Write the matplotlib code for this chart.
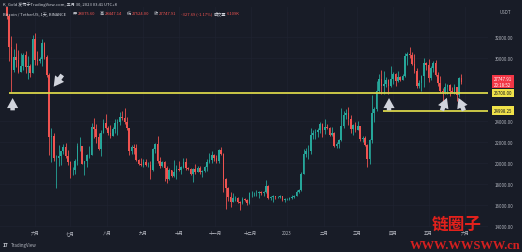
import numpy as np
import matplotlib
matplotlib.use("Agg")
import matplotlib.pyplot as plt

plt.rcParams['font.family'] = ['Noto Sans CJK SC', 'DejaVu Sans']

# BTC/USDT, 2-day candles starting 2022-05-05 (day index counted from 2022-05-01)
first_day = 4
open0 = 39700
highs = [39800, 36100, 34200, 32100, 30900, 31400, 30800, 30500, 30500, 30700,
         30200, 29400, 32200, 32400, 30700, 30100, 31800, 31500, 30300, 28600,
         23300, 22900, 20800, 21700, 21000, 21800, 21900, 21200, 20200, 19600,
         20400, 21900, 22500, 21600, 20000, 20900, 21600, 23800, 24300, 23700,
         22900, 23100, 24200, 24700, 23500, 23600, 23400, 24200, 24200, 24900,
         25000, 25200, 24400, 23300, 21700, 21800, 21800, 20400, 20500, 20400,
         20400, 20100, 20200, 21400, 21900, 22600, 20600, 20200, 20200, 19700,
         19500, 19300, 20300, 19800, 20200, 19700, 20500, 20500, 19600, 19500,
         19500, 19900, 19700, 19700, 19300, 19700, 20400, 21000, 21100, 20900,
         20800, 21300, 21500, 21000, 18600, 17700, 17200, 17100, 16900, 16800,
         16400, 16800, 16700, 16600, 17200, 17300, 17200, 17400, 17300, 17300,
         17300, 18400, 17900, 16900, 17000, 16900, 16900, 17000, 16900, 16700,
         16700, 16800, 17000, 17000, 17400, 17500, 19100, 21300, 21400, 21700,
         23300, 23100, 23200, 23300, 23900, 23800, 24200, 23700, 23400, 23400,
         23000, 22000, 22300, 25200, 25000, 25100, 25300, 24600, 23700, 23900,
         24000, 23500, 22600, 22600, 21800, 22300, 26500, 25300, 27800, 28500,
         28900, 28800, 28200, 28000, 29200, 28700, 28600, 28800, 28300, 28500,
         30500, 30600, 31000, 30600, 30400, 29000, 27900, 28400, 30000, 29600,
         29900, 29200, 29700, 29800, 28700, 28300, 27100, 27600, 27500, 27500,
         27200, 27500, 27200, 28200, 28447.14]
lows = [35300, 33700, 29700, 26700, 28700, 29100, 28600, 28700, 28900, 28600,
        28000, 28200, 28600, 29300, 29300, 29500, 29200, 29900, 28200, 20800,
        20100, 20200, 17600, 19700, 19800, 20900, 20500, 19800, 18600, 18900,
        19000, 19800, 21100, 19900, 18900, 19600, 20500, 20800, 22400, 21900,
        21200, 20700, 22900, 23200, 22700, 22400, 22600, 22900, 22700, 23600,
        24100, 23700, 23100, 20800, 20900, 20900, 20200, 19800, 19700, 19600,
        19700, 19600, 18500, 19200, 21000, 20000, 19500, 19600, 18300, 18100,
        18400, 18700, 18700, 18500, 19200, 19000, 19500, 19300, 19300, 18900,
        18200, 19000, 19100, 19000, 18700, 19100, 19200, 20000, 20000, 20200,
        20000, 20000, 20800, 17200, 15600, 16400, 15800, 16300, 16400, 16200,
        15500, 16100, 16400, 16000, 16100, 16800, 16900, 16900, 16700, 17000,
        16900, 17100, 16600, 16500, 16300, 16600, 16700, 16700, 16400, 16300,
        16500, 16500, 16600, 16700, 16900, 17100, 17300, 19000, 20600, 20400,
        20900, 22300, 22300, 22500, 22900, 22500, 22800, 23200, 22600, 22600,
        21500, 21400, 21400, 22100, 23300, 24200, 23600, 22900, 22700, 23000,
        23100, 22100, 22000, 21600, 19600, 19900, 21900, 23900, 25000, 26700,
        26600, 26600, 27200, 26600, 27200, 27500, 27300, 27700, 27800, 27900,
        28200, 29300, 30000, 29300, 28600, 27100, 27100, 26900, 27200, 28900,
        27700, 27900, 28700, 28300, 27300, 26700, 25800, 26600, 26600, 26400,
        26700, 26600, 25900, 26300, 27524.00]
closes = [36000, 34000, 31000, 28900, 30100, 29800, 28700, 29200, 30300, 29100,
          29200, 28600, 31800, 29800, 29700, 29900, 31400, 30100, 28400, 22500,
          22600, 20500, 20500, 20700, 21100, 21500, 20700, 20100, 19300, 19300,
          20200, 21600, 21600, 19900, 20200, 20800, 20800, 23400, 23200, 22500,
          21300, 22900, 23800, 23300, 22900, 22600, 23200, 23800, 23900, 24400,
          24300, 23900, 23300, 21100, 21500, 21400, 20300, 19900, 19800, 20100,
          19800, 19800, 19300, 21300, 21800, 20200, 19700, 20100, 19500, 18500,
          19300, 18800, 19100, 19400, 19300, 19600, 20100, 19500, 19400, 19000,
          19400, 19100, 19500, 19100, 19200, 19600, 20100, 20300, 20800, 20500,
          20200, 21200, 20900, 18500, 17600, 16800, 16300, 16700, 16700, 16300,
          16200, 16600, 16500, 16200, 17100, 17100, 17100, 17100, 17200, 17100,
          17200, 17800, 16700, 16800, 16900, 16800, 16800, 16900, 16500, 16600,
          16600, 16700, 16800, 16900, 17200, 17400, 19000, 20900, 21100, 21100,
          22700, 22900, 23000, 23100, 23700, 23100, 23400, 23300, 22700, 22900,
          21600, 21800, 22200, 23500, 24600, 24800, 24200, 23200, 23600, 23100,
          23500, 22300, 22400, 21700, 20400, 22200, 24800, 25100, 26900, 28000,
          27300, 27500, 27900, 27300, 28000, 28500, 27800, 28200, 27900, 28300,
          30200, 30400, 30300, 29400, 28800, 27300, 27600, 28300, 29500, 29300,
          28100, 29000, 29500, 28400, 27600, 26900, 26800, 27200, 27400, 26900,
          26800, 27200, 26500, 28075.60, 27747.91]

month_days = [31, 61, 92, 123, 153, 184, 214, 245, 276, 304, 335, 365, 396]
month_labels = ["六月", "七月", "八月", "九月", "十月", "十一月", "十二月",
                "2023", "二月", "三月", "四月", "五月", "六月"]
price_ticks = [14000, 16000, 18000, 20000, 22000, 24000, 30000, 32000]
level_hi = 26700.00
level_lo = 24998.25

bg = "#181c27"
up_col = "#26a69a"
down_col = "#ef5350"
yellow = "#d8d44a"
txt = "#b2b5be"

W, H = 522, 253
fig = plt.figure(figsize=(W / 100, H / 100), dpi=100, facecolor=bg)
ax = fig.add_axes([0, (H - 228) / H, 488 / W, 220 / H], facecolor=bg)
ax.set_xlim(1.3, 415.5)
ax.set_ylim(13905, 34857)

# candles
n = len(closes)
x = first_day + 2 * np.arange(n) + 1
opens = np.array([open0] + closes[:-1])
closes_a = np.array(closes)
colors = np.where(closes_a >= opens, up_col, down_col)
ax.vlines(x, lows, highs, colors=colors, lw=0.6, zorder=3)
ax.bar(x, closes_a - opens, bottom=opens, width=1.4, color=colors, lw=0, zorder=3)

# levels
ax.hlines(level_hi, 9, 415.5, color=yellow, lw=1.3, zorder=4)
ax.hlines(level_lo, 326, 415.5, color=yellow, lw=1.3, zorder=4)

# arrows
arrow_kw = dict(arrowstyle="simple,head_length=0.9,head_width=1.0,tail_width=0.4",
                fc="#d1d4dc", ec="none", mutation_scale=8)
arrows = [((12, 26450), (12, 24750)),
          ((45.5, 27050), (55.5, 28600)),
          ((331.5, 26450), (331.5, 24750)),
          ((381.5, 26450), (375.5, 24750)),
          ((389.5, 26450), (396, 24750))]
for head, tail in arrows:
    ax.annotate("", xy=head, xytext=tail, arrowprops=arrow_kw, zorder=5)

# axes / grid
for s in ax.spines.values():
    s.set_visible(False)
ax.set_xticks(month_days)
ax.set_xticklabels(month_labels)
ax.yaxis.tick_right()
ax.set_yticks(price_ticks)
ax.set_yticklabels([f"{p:.2f}" for p in price_ticks])
ax.tick_params(axis="both", length=0, labelsize=3.2, colors=txt)
ax.tick_params(axis="x", pad=2)
ax.tick_params(axis="y", pad=5)
ax.grid(True, color="#1f2331", lw=0.5, zorder=0)

# price labels on the axis
ytr = ax.get_yaxis_transform()
ax.text(1.012, closes[-1], f"{closes[-1]:.2f}\n20:18:52", transform=ytr, fontsize=3.2,
        color="white", va="center", ha="left", linespacing=1.1,
        bbox=dict(boxstyle="square,pad=0.35", fc="#f23645", ec="none"), zorder=6, clip_on=False)
for lv in (level_hi, level_lo):
    ax.text(1.012, lv, f"{lv:.2f}", transform=ytr, fontsize=3.2, color="#131722",
            va="center", ha="left",
            bbox=dict(boxstyle="square,pad=0.35", fc="#f0e24a", ec="none"), zorder=6, clip_on=False)
fig.text(505 / W, 1 - 13 / H, "USDT", fontsize=3.2, color=txt, ha="center", va="center")

# legend header
o, h, l, c = closes[-2], highs[-1], lows[-1], closes[-1]
fs = 3.0
fig.text(3 / W, 1 - 5 / H, "K_Gold 发布于TradingView.com, 五月 30, 2023 03:41 UTC+8",
         fontsize=fs, color="#d1d4dc", va="center")
y2 = 1 - 14 / H
fig.text(3 / W, y2, "Bitcoin / TetherUS, 1天, BINANCE", fontsize=fs, color="#d1d4dc", va="center")
parts = [(73, "开", f"{o:.2f}"), (100, "高", f"{h:.2f}"), (127, "低", f"{l:.2f}"), (154, "收", f"{c:.2f}")]
for px, k, v in parts:
    fig.text(px / W, y2, k, fontsize=fs, color="#d1d4dc", va="center")
    fig.text((px + 4.5) / W, y2, v, fontsize=fs, color=down_col, va="center")
fig.text(181 / W, y2, f"{c - o:.2f} ({(c - o) / o * 100:.2f}%)", fontsize=fs, color=down_col, va="center")
fig.text(214 / W, y2, "成交量", fontsize=fs, color="#d1d4dc", va="center")
fig.text(227 / W, y2, "6.109K", fontsize=fs, color=down_col, va="center")

# footer
fig.text(3 / W, 1 - 246 / H, "17", fontsize=3.5, color="#d1d4dc", weight="bold", va="center")
fig.text(11 / W, 1 - 246 / H, "TradingView", fontsize=3.2, color=txt, va="center")

# watermark
fig.text(457 / W, 1 - 225 / H, "链圈子", fontsize=12, color="#e3211c", weight="bold",
         ha="center", va="center")
fig.text(465 / W, 1 - 246 / H, "WWW.WWSWW.cn", fontsize=9, color="#d42020", weight="bold",
         family="Liberation Serif", ha="center", va="center")

fig.savefig("out.png", dpi=100, facecolor=bg)
